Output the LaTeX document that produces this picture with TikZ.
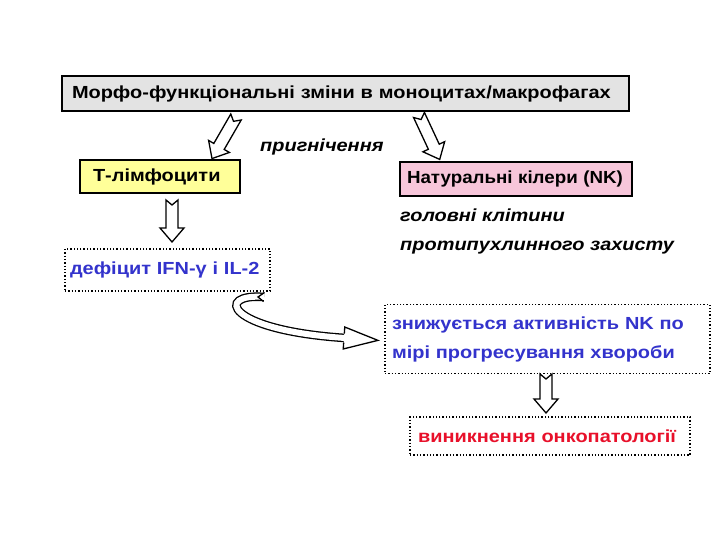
\documentclass[tikz,border=0pt]{standalone}
\usepackage{graphicx}
\usepackage{fontspec}
\setmainfont{Liberation Sans}[FakeStretch=1.14]
\definecolor{topgray}{HTML}{E3E3E3}
\definecolor{tyellow}{HTML}{FFFF99}
\definecolor{nkpink}{HTML}{F7C6DA}
\definecolor{txtblue}{HTML}{3333CC}
\definecolor{txtred}{HTML}{E8102A}
\tikzset{
  txt/.style={font=\bfseries\fontsize{17.5}{20}\selectfont},
  solidbox/.style={txt, draw=black, line width=1.8pt, inner ysep=0pt, align=left},
  dotbox/.style={txt, draw=black, dotted, line width=1.3pt, inner ysep=0pt, align=left, fill=white},
  lbl/.style={font=\bfseries\itshape\fontsize{17.5}{29}\selectfont, inner sep=0pt, anchor=west, align=left},
  pics/barrow/.style={code={
    \draw[line width=1.3pt, fill=white, line join=miter]
      (-6,0) -- (0,5) -- (6,0) -- (6,#1-14) -- (12,#1-14) -- (0,#1)
      -- (-12,#1-14) -- (-6,#1-14) -- cycle;}}
}
\begin{document}
\begin{tikzpicture}[x=1pt,y=-1pt]
\useasboundingbox[fill=white] (0,0) rectangle (720,540);

\node[solidbox, fill=topgray, minimum width=567pt, minimum height=35pt,
      inner xsep=10pt, text width=547pt] (top) at (345.5,93.5)
  {Морфо-функціональні зміни в моноцитах/макрофагах};

\node[solidbox, fill=tyellow, minimum width=160pt, minimum height=33pt,
      inner xsep=13pt, text width=134pt] (tl) at (160,176.5) {Т-лімфоцити};

\node[solidbox, fill=nkpink, minimum width=232pt, minimum height=34pt,
      inner xsep=7pt, text width=218pt] (nk) at (516,179)
  {\scalebox{0.94}[1]{Натуральні кілери (NK)}};

\node[lbl] (supp) at (260,147) {пригнічення};
\node[lbl] (main) at (400,231) {головні клітини\\протипухлинного захисту};

\node[dotbox, text=txtblue, minimum width=205pt, minimum height=42pt,
      inner xsep=5pt, text width=195pt] (def) at (167.5,270) {дефіцит IFN-γ і IL-2};

\node[dotbox, text=txtblue, minimum width=325pt, minimum height=69pt,
      inner xsep=7pt, text width=311pt, font=\bfseries\fontsize{17.5}{29}\selectfont]
      (act) at (547.5,339) {знижується активність NK по\\мірі прогресування хвороби};

\node[dotbox, text=txtred, minimum width=280pt, minimum height=38pt,
      inner xsep=8pt, text width=264pt] (onc) at (550,436) {виникнення онкопатології};

% block arrows
\pic[rotate=-30] at (236,117) {barrow=48};
\pic[rotate=25] at (419,115) {barrow=49};
\pic at (172,200) {barrow=42};
\pic at (546,374) {barrow=39};

% curved arrow
\draw[line width=1.3pt, double=white, double distance=6pt, line cap=butt]
  (264,297) .. controls (215,293) and (225,330) .. (345,338);
\draw[line width=1.3pt, line join=miter] (264.5,292.5) -- (258,297) -- (263.5,301.5);
\begin{scope}[shift={(344,338)}, rotate=-4]
  \filldraw[line width=1.3pt, fill=white, line join=miter]
    (0,-4.5) -- (0,-11) -- (34,0) -- (0,11) -- (0,4.5);
\end{scope}
\end{tikzpicture}
\end{document}
